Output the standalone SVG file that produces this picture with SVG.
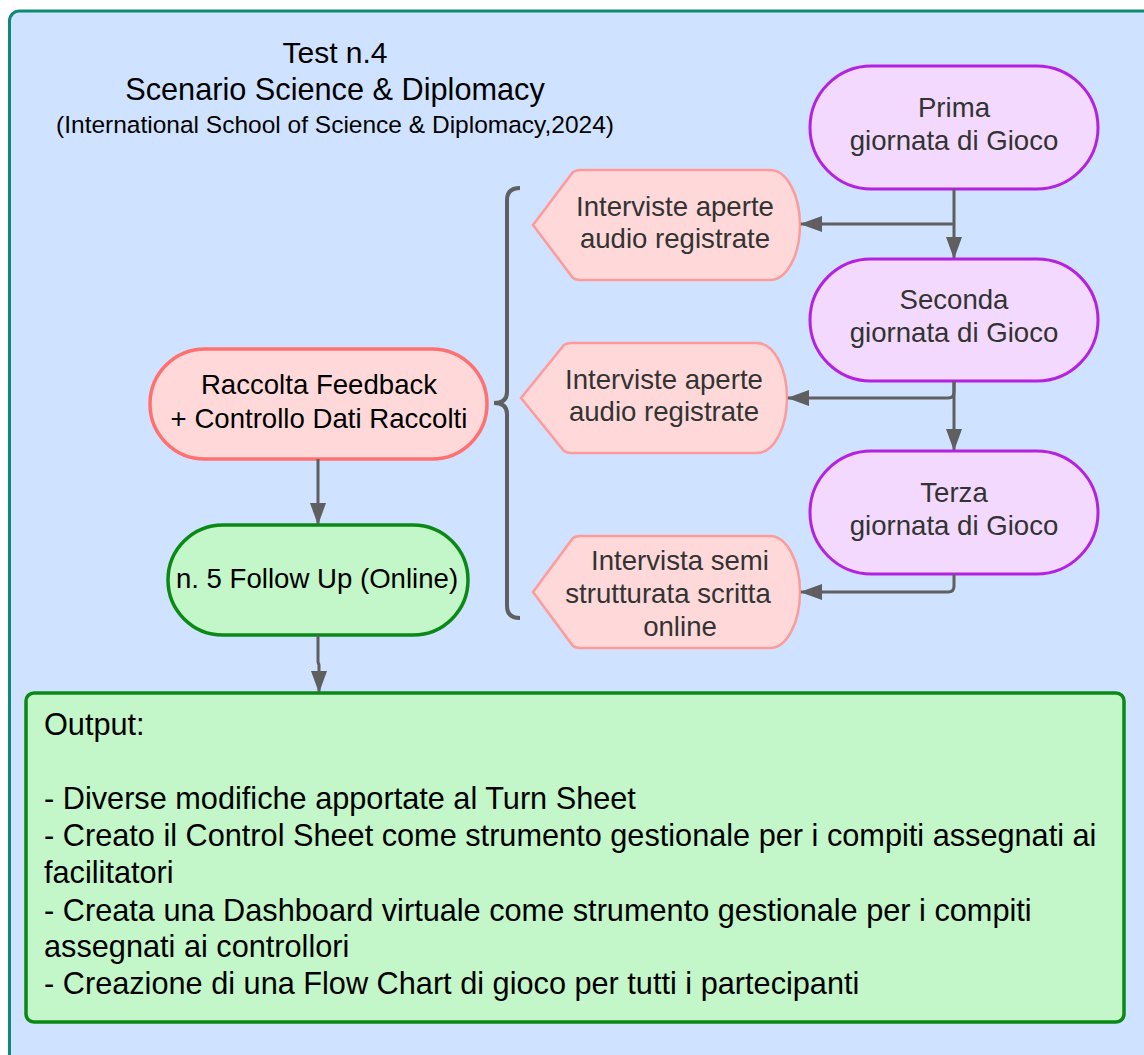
<svg xmlns="http://www.w3.org/2000/svg" width="1144" height="1055" viewBox="0 0 1144 1055">
  <defs>
    <marker id="arrow" viewBox="0 0 22 16" refX="21" refY="8" markerWidth="22" markerHeight="16" markerUnits="userSpaceOnUse" orient="auto">
      <path d="M0,0 L22,8 L0,16 Z" fill="#5f5f5f"/>
    </marker>
  </defs>
  <style>
    text { font-family: "Liberation Sans", Arial, sans-serif; }
    .day { fill: #f2d9fd; stroke: #b620e0; stroke-width: 3; }
    .callout { fill: #ffd9d9; stroke: #ff9a9a; stroke-width: 2.5; }
    .feedback { fill: #ffd9d9; stroke: #ff7070; stroke-width: 3.5; }
    .green { fill: #c3f6c8; stroke: #0a8a14; stroke-width: 3.5; }
    .lbl { font-size: 27.6px; fill: #333333; text-anchor: middle; }
    .lblk { font-size: 27.6px; fill: #000000; text-anchor: middle; }
    .conn { fill: none; stroke: #5f5f5f; stroke-width: 3; }
    .out { font-size: 30.7px; fill: #000000; }
  </style>

  <!-- background container -->
  <rect x="9.5" y="11" width="1160" height="1080" rx="10" fill="#cfe2ff" stroke="#0f8a72" stroke-width="3"/>

  <!-- title -->
  <g id="title">
    <text x="335" y="63" font-size="30" text-anchor="middle" fill="#000">Test n.4</text>
    <text x="335" y="100" font-size="30.7" text-anchor="middle" fill="#000">Scenario Science &amp; Diplomacy</text>
    <text x="335" y="133" font-size="24.5" text-anchor="middle" fill="#000">(International School of Science &amp; Diplomacy,2024)</text>
  </g>

  <!-- game days -->
  <g id="day1">
    <rect class="day" x="810" y="66" width="288" height="123" rx="61.5"/>
    <text class="lbl" x="954" y="117">Prima</text>
    <text class="lbl" x="954" y="150">giornata di Gioco</text>
  </g>
  <g id="day2">
    <rect class="day" x="810" y="259" width="288" height="122" rx="61"/>
    <text class="lbl" x="954" y="309">Seconda</text>
    <text class="lbl" x="954" y="342">giornata di Gioco</text>
  </g>
  <g id="day3">
    <rect class="day" x="810" y="451" width="288" height="123" rx="61.5"/>
    <text class="lbl" x="954" y="502">Terza</text>
    <text class="lbl" x="954" y="535">giornata di Gioco</text>
  </g>

  <!-- interview callouts -->
  <g id="interview1">
    <path class="callout" d="M533,225 L573,172 Q576,170 580,170 L770,170 A30,55 0 0 1 770,280 L580,280 Q576,280 573,278 Z"/>
    <text class="lbl" x="675" y="216">Interviste aperte</text>
    <text class="lbl" x="675" y="248">audio registrate</text>
  </g>
  <g id="interview2">
    <path class="callout" d="M521,398 L564,345 Q567,343 571,343 L757,343 A30,55 0 0 1 757,453 L571,453 Q567,453 564,451 Z"/>
    <text class="lbl" x="664" y="389">Interviste aperte</text>
    <text class="lbl" x="664" y="421">audio registrate</text>
  </g>
  <g id="interview3">
    <path class="callout" d="M533,592 L573,538 Q576,536 580,536 L770,536 A30,56 0 0 1 770,648 L580,648 Q576,648 573,646 Z"/>
    <text class="lbl" x="680" y="570">Intervista semi</text>
    <text class="lbl" x="668" y="603">strutturata scritta</text>
    <text class="lbl" x="680" y="636">online</text>
  </g>

  <!-- feedback and follow-up -->
  <g id="feedback">
    <rect class="feedback" x="150" y="349" width="337" height="110" rx="55"/>
    <text class="lblk" x="319" y="394">Raccolta Feedback</text>
    <text class="lblk" x="319" y="428">+ Controllo Dati Raccolti</text>
  </g>
  <g id="followup">
    <rect class="green" x="168" y="525" width="300" height="110" rx="55"/>
    <text class="lblk" x="317" y="588" font-size="29.4px">n. 5 Follow Up (Online)</text>
  </g>

  <!-- output -->
  <g id="output">
    <rect class="green" x="26" y="693" width="1098" height="329" rx="8" stroke-width="4"/>
    <text class="out" x="44" y="735">Output:</text>
    <text class="out" x="44" y="809">- Diverse modifiche apportate al Turn Sheet</text>
    <text class="out" x="44" y="846">- Creato il Control Sheet come strumento gestionale per i compiti assegnati ai</text>
    <text class="out" x="44" y="883">facilitatori</text>
    <text class="out" x="44" y="921">- Creata una Dashboard virtuale come strumento gestionale per i compiti</text>
    <text class="out" x="44" y="957">assegnati ai controllori</text>
    <text class="out" x="44" y="994">- Creazione di una Flow Chart di gioco per tutti i partecipanti</text>
  </g>

  <!-- connectors -->
  <g id="connectors">
    <path class="conn" d="M954,189 L954,258" marker-end="url(#arrow)"/>
    <path class="conn" d="M954,224 L801,224" marker-end="url(#arrow)"/>
    <path class="conn" d="M954,381 L954,450" marker-end="url(#arrow)"/>
    <path class="conn" d="M954,381 L954,392 Q954,398 948,398 L788,398" marker-end="url(#arrow)"/>
    <path class="conn" d="M954,574 L954,586 Q954,592 948,592 L801,592" marker-end="url(#arrow)"/>
    <path class="conn" d="M318,459 L318,524" marker-end="url(#arrow)"/>
    <path class="conn" d="M318,635 L318,662 L319,665 L319,692" marker-end="url(#arrow)"/>
    <!-- brace grouping the interviews -->
    <path d="M520,188 Q507,188 507,200 L507,392 Q507,403 494,403 Q507,403 507,414 L507,606 Q507,618 520,618" fill="none" stroke="#5f5f5f" stroke-width="4"/>
  </g>
</svg>
